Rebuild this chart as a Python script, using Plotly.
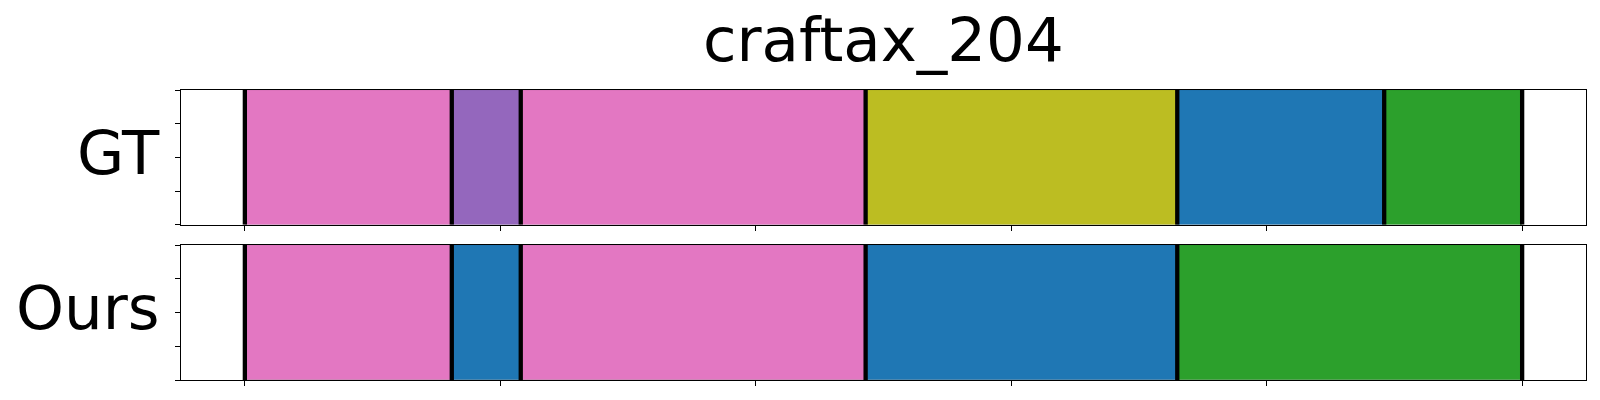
import plotly.graph_objects as go
from plotly.subplots import make_subplots

# ---- data ----
title_text = "craftax_204"
row_labels = ["GT", "Ours"]

gt_bounds = [0, 81, 108, 243, 365, 446, 500]
gt_colors = ["#e377c2", "#9467bd", "#e377c2", "#bcbd22", "#1f77b4", "#2ca02c"]

ours_bounds = [0, 81, 108, 243, 365, 500]
ours_colors = ["#e377c2", "#1f77b4", "#e377c2", "#1f77b4", "#2ca02c"]

x_ticks = [0, 100, 200, 300, 400, 500]
y_ticks = [0, 0.25, 0.5, 0.75, 1.0]

FONT = "DejaVu Sans"

fig = make_subplots(rows=2, cols=1, shared_xaxes=False, vertical_spacing=0.07)

def add_row(bounds, colors, row):
    starts = bounds[:-1]
    ends = bounds[1:]
    mids = [(s + e) / 2 for s, e in zip(starts, ends)]
    widths = [e - s for s, e in zip(starts, ends)]
    fig.add_trace(go.Bar(
        x=mids, y=[1] * len(mids), width=widths, base=0,
        marker=dict(color=colors, line=dict(width=0.6, color="rgba(0,0,0,0.25)")),
        showlegend=False, hoverinfo="skip"), row=row, col=1)
    lx, ly = [], []
    for b in bounds:
        lx += [b, b, None]
        ly += [0, 1, None]
    fig.add_trace(go.Scatter(
        x=lx, y=ly, mode="lines", line=dict(color="black", width=4.3),
        showlegend=False, hoverinfo="skip"), row=row, col=1)

add_row(gt_bounds, gt_colors, 1)
add_row(ours_bounds, ours_colors, 2)

axis_common = dict(showline=True, mirror=True, linecolor="black", linewidth=1.3,
                   showgrid=False, zeroline=False, ticks="outside", ticklen=5,
                   tickwidth=1, tickcolor="black", showticklabels=False)

for r in (1, 2):
    fig.update_xaxes(range=[-25, 525], tickvals=x_ticks, row=r, col=1, **axis_common)
    fig.update_yaxes(range=[0, 1], tickvals=y_ticks, row=r, col=1, **axis_common)

top_dom = [0.5355, 1.0]
bot_dom = [0.0, 0.4655]
fig.update_layout(
    yaxis=dict(domain=top_dom),
    yaxis2=dict(domain=bot_dom),
)

# row labels (horizontal text to the left of each axes)
for lab, dom in zip(row_labels, [top_dom, bot_dom]):
    fig.add_annotation(text=lab, xref="paper", yref="paper", x=0, xanchor="right",
                       xshift=-19, y=(dom[0] + dom[1]) / 2, yanchor="middle", yshift=5,
                       showarrow=False, font=dict(family=FONT, size=61, color="black"))

fig.add_annotation(text=title_text, xref="paper", yref="paper", x=0.5, xanchor="center",
                   y=1, yanchor="bottom", yshift=14, showarrow=False,
                   height=70, valign="bottom", borderpad=0,
                   font=dict(family=FONT, size=61, color="black"))

# page body has an 8px default margin, so the figure is sized/offset to compensate
fig.update_layout(
    width=1592, height=392,
    margin=dict(l=173, r=14, t=82, b=20),
    paper_bgcolor="white", plot_bgcolor="white",
    bargap=0, barmode="overlay",
    font=dict(family=FONT),
)

fig.write_html("out.html")
